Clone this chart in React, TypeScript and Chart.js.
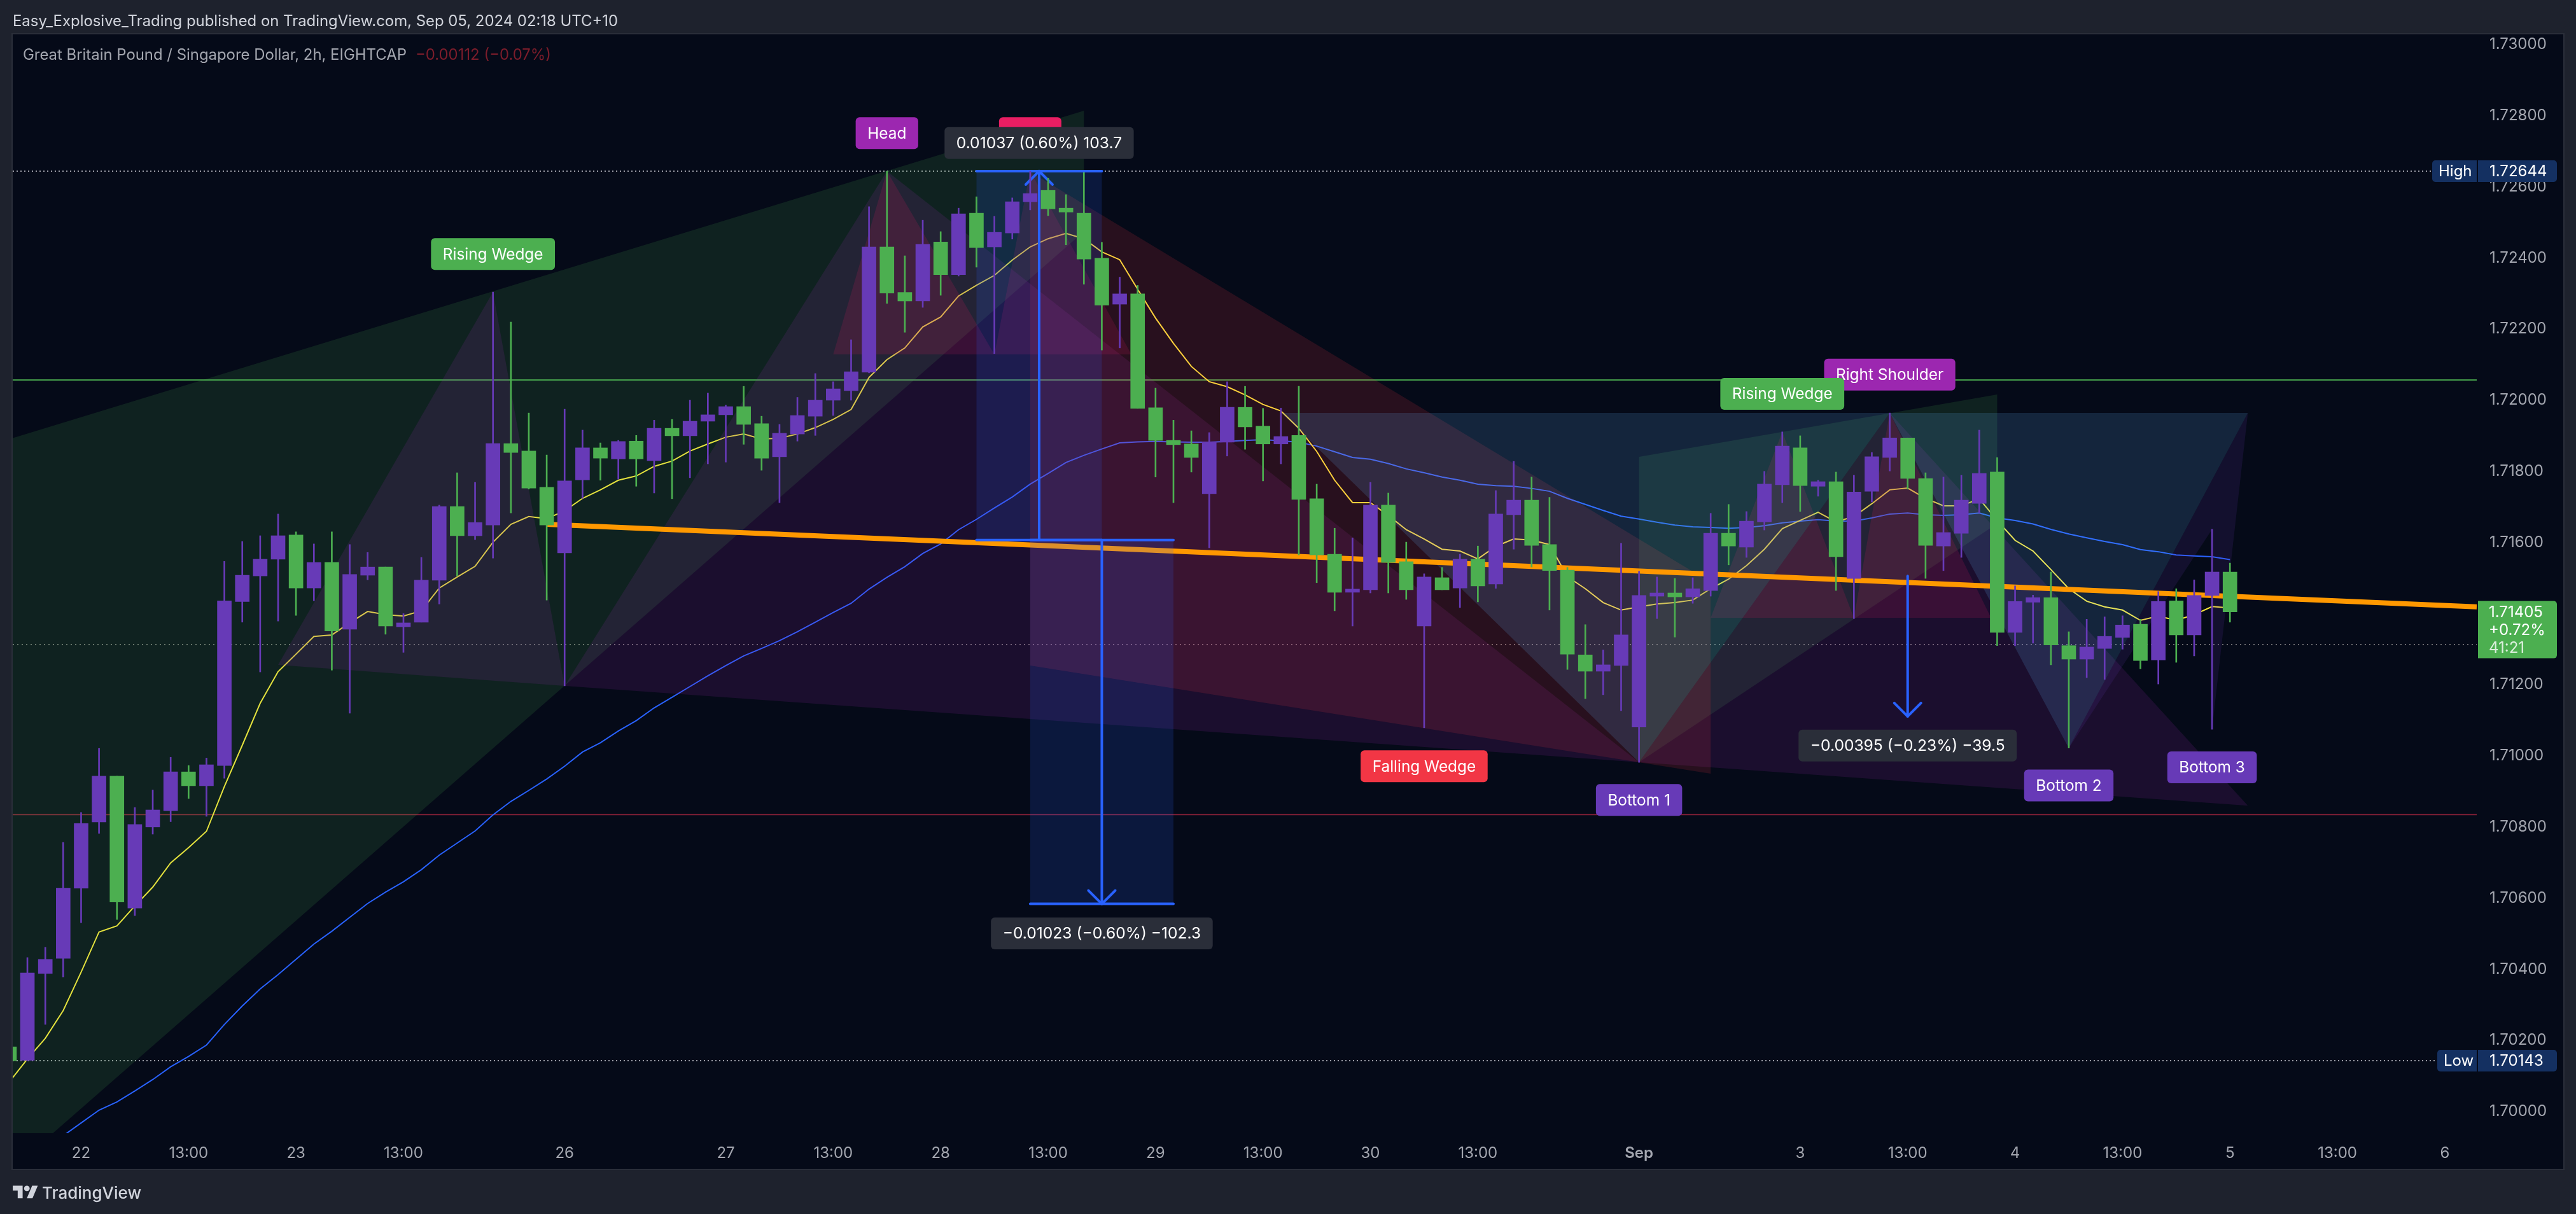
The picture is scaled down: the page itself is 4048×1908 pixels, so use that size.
import React, { useEffect, useRef } from "react";
import { Chart, registerables } from "chart.js";

Chart.register(...registerables);

const FONT = "Inter, 'Noto Sans', sans-serif";

const priceTicks = [1.73, 1.728, 1.726, 1.724, 1.722, 1.72, 1.718, 1.716, 1.714, 1.712, 1.71, 1.708, 1.706, 1.704, 1.702, 1.7];
const timeTickBars = [4, 10, 16, 22, 31, 40, 46, 52, 58, 64, 70, 76, 82, 91, 100, 106, 112, 118, 124, 130, 136];
const timeTickLabels = ["22", "13:00", "23", "13:00", "26", "27", "13:00", "28", "13:00", "29", "13:00", "30", "13:00", "Sep", "3", "13:00", "4", "13:00", "5", "13:00", "6"];

const opens = [
  1.70182, 1.70144, 1.70388, 1.70431, 1.70628, 1.70814, 1.70943, 1.70572, 1.708, 1.70846,
  1.70955, 1.70916, 1.70973, 1.71434, 1.71506, 1.71553, 1.71621, 1.71472, 1.71544, 1.71356,
  1.71508, 1.71531, 1.71363, 1.71376, 1.71494, 1.71701, 1.71619, 1.71649, 1.71878, 1.71857,
  1.71755, 1.71571, 1.71776, 1.71866, 1.71835, 1.71885, 1.7183, 1.71921, 1.719, 1.71941,
  1.71959, 1.71982, 1.71934, 1.71841, 1.71905, 1.71955, 1.72, 1.72027, 1.72079, 1.72431,
  1.72303, 1.72279, 1.72445, 1.72353, 1.72526, 1.72431, 1.7247, 1.72558, 1.7259, 1.7254,
  1.72526, 1.72399, 1.7227, 1.72299, 1.71979, 1.71887, 1.71877, 1.71737, 1.71882, 1.7198,
  1.71927, 1.71877, 1.71901, 1.71723, 1.71567, 1.7146, 1.71467, 1.71705, 1.71546, 1.71365,
  1.71501, 1.71472, 1.71553, 1.71483, 1.71678, 1.71719, 1.71594, 1.71522, 1.71284, 1.71238,
  1.71254, 1.71081, 1.71449, 1.71458, 1.71447, 1.71465, 1.71626, 1.71587, 1.71658, 1.71762,
  1.71866, 1.71758, 1.71771, 1.71499, 1.71744, 1.71839, 1.71894, 1.7178, 1.7159, 1.71626,
  1.7171, 1.71798, 1.71347, 1.71432, 1.71445, 1.7131, 1.71272, 1.71302, 1.71333, 1.7137,
  1.7127, 1.71436, 1.7134, 1.71451, 1.71517,
];
const highs = [
  1.7022, 1.70433, 1.70462, 1.70757, 1.70841, 1.71021, 1.70943, 1.70855, 1.70904, 1.70996,
  1.70973, 1.70994, 1.71547, 1.71603, 1.71619, 1.7168, 1.7163, 1.71596, 1.7163, 1.71594,
  1.71572, 1.71531, 1.714, 1.71558, 1.71705, 1.71796, 1.71769, 1.72304, 1.7222, 1.71964,
  1.71846, 1.71975, 1.71916, 1.7188, 1.71887, 1.71901, 1.71944, 1.71946, 1.72, 1.7202,
  1.71986, 1.72039, 1.71955, 1.71932, 1.72008, 1.72075, 1.72052, 1.7217, 1.72544, 1.72644,
  1.72406, 1.72506, 1.72474, 1.7254, 1.72572, 1.72517, 1.72569, 1.72644, 1.72624, 1.72578,
  1.7264, 1.72444, 1.72346, 1.72323, 1.72034, 1.71944, 1.71914, 1.71909, 1.72052, 1.72039,
  1.71977, 1.71978, 1.72039, 1.71764, 1.7164, 1.71613, 1.71769, 1.71739, 1.71601, 1.71512,
  1.7153, 1.71567, 1.7159, 1.71746, 1.71828, 1.71784, 1.71727, 1.7153, 1.71369, 1.71298,
  1.71598, 1.71519, 1.71503, 1.71499, 1.71501, 1.71682, 1.71707, 1.71687, 1.718, 1.71911,
  1.719, 1.71775, 1.71798, 1.71789, 1.71853, 1.71964, 1.71894, 1.71796, 1.71784, 1.71789,
  1.71916, 1.71839, 1.71478, 1.71452, 1.71517, 1.71349, 1.71384, 1.71391, 1.71394, 1.71384,
  1.71462, 1.7147, 1.71495, 1.71637, 1.71542,
];
const lows = [
  1.70143, 1.70143, 1.70245, 1.70378, 1.70531, 1.70782, 1.7054, 1.70551, 1.7078, 1.70815,
  1.7088, 1.7083, 1.70937, 1.71376, 1.71236, 1.71379, 1.71395, 1.71436, 1.71241, 1.7112,
  1.71495, 1.71342, 1.71291, 1.71376, 1.71427, 1.71506, 1.71608, 1.71556, 1.71683, 1.7175,
  1.71438, 1.71197, 1.71724, 1.71775, 1.71778, 1.71758, 1.71739, 1.71723, 1.71782, 1.71821,
  1.71826, 1.71876, 1.71803, 1.71712, 1.71885, 1.71901, 1.71957, 1.72, 1.72077, 1.72272,
  1.72191, 1.72261, 1.72295, 1.72349, 1.72374, 1.72131, 1.72453, 1.72535, 1.72519, 1.72437,
  1.72326, 1.72141, 1.72147, 1.71977, 1.71784, 1.71712, 1.71798, 1.71585, 1.71843, 1.71862,
  1.71773, 1.71821, 1.71565, 1.71487, 1.71408, 1.71365, 1.71458, 1.71458, 1.7144, 1.71079,
  1.71467, 1.71417, 1.71433, 1.71471, 1.71581, 1.71531, 1.7141, 1.71243, 1.71161, 1.71172,
  1.71127, 1.70982, 1.71386, 1.71334, 1.71429, 1.71449, 1.71537, 1.71558, 1.71635, 1.71712,
  1.71687, 1.7173, 1.71465, 1.71386, 1.71714, 1.71801, 1.7175, 1.71499, 1.71521, 1.71558,
  1.71683, 1.7131, 1.7131, 1.71317, 1.71256, 1.71022, 1.7122, 1.71215, 1.713, 1.71245,
  1.71202, 1.71263, 1.71281, 1.71075, 1.71376,
];
const closes = [
  1.70143, 1.7039, 1.70428, 1.70628, 1.7081, 1.70943, 1.70589, 1.70807, 1.70848, 1.70955,
  1.70916, 1.70975, 1.71436, 1.71508, 1.71553, 1.71619, 1.71472, 1.71544, 1.71351, 1.7151,
  1.71531, 1.71365, 1.71374, 1.71494, 1.71701, 1.71619, 1.71656, 1.71878, 1.71853, 1.71753,
  1.71649, 1.71773, 1.71866, 1.71837, 1.71884, 1.71835, 1.71921, 1.719, 1.71941, 1.71959,
  1.71982, 1.71932, 1.71837, 1.71907, 1.71957, 1.72, 1.72032, 1.7208, 1.72431, 1.72301,
  1.72279, 1.72438, 1.72353, 1.72524, 1.72429, 1.72472, 1.72558, 1.72581, 1.72538, 1.72529,
  1.72397, 1.72267, 1.72299, 1.71977, 1.71887, 1.71875, 1.71839, 1.71883, 1.7198, 1.71925,
  1.71877, 1.71898, 1.71721, 1.71565, 1.7146, 1.71469, 1.71705, 1.71544, 1.71467, 1.71503,
  1.71467, 1.71553, 1.71478, 1.7168, 1.71719, 1.71592, 1.71521, 1.71286, 1.71238, 1.71256,
  1.7134, 1.71451, 1.71458, 1.71447, 1.7147, 1.71626, 1.7159, 1.7166, 1.71764, 1.71871,
  1.7176, 1.71771, 1.7156, 1.71742, 1.71841, 1.71894, 1.7178, 1.71592, 1.71628, 1.71719,
  1.71794, 1.71347, 1.71434, 1.71445, 1.71312, 1.71272, 1.71306, 1.71336, 1.71368, 1.71268,
  1.71434, 1.7134, 1.71451, 1.71517, 1.71405,
];
const emaFast = [
  1.70084, 1.70148, 1.70206, 1.70284, 1.70392, 1.70505, 1.70522, 1.70578, 1.70631, 1.70699,
  1.70742, 1.70788, 1.70914, 1.7103, 1.71148, 1.71237, 1.71286, 1.71336, 1.7134, 1.71374,
  1.71406, 1.71397, 1.71393, 1.71408, 1.71472, 1.71503, 1.71533, 1.71601, 1.71651, 1.71673,
  1.71667, 1.71689, 1.71724, 1.71748, 1.71775, 1.71787, 1.71814, 1.71829, 1.71857, 1.71877,
  1.71896, 1.71905, 1.71891, 1.71893, 1.71905, 1.71923, 1.71946, 1.71974, 1.72064, 1.72114,
  1.72147, 1.72206, 1.72234, 1.72293, 1.72323, 1.72351, 1.72394, 1.72431, 1.72454, 1.72469,
  1.72454, 1.72417, 1.72395, 1.72312, 1.72231, 1.7216, 1.72095, 1.72052, 1.72038, 1.72015,
  1.71988, 1.7197, 1.71921, 1.71856, 1.71775, 1.71712, 1.71712, 1.71676, 1.71636, 1.7161,
  1.71581, 1.71576, 1.71554, 1.71589, 1.7161, 1.71607, 1.71594, 1.71504, 1.7147, 1.71431,
  1.7141, 1.71419, 1.71427, 1.71431, 1.71438, 1.7147, 1.71497, 1.71535, 1.71581, 1.71639,
  1.71662, 1.71685, 1.71658, 1.71673, 1.71709, 1.71748, 1.71753, 1.71724, 1.71703, 1.71703,
  1.71723, 1.71662, 1.71606, 1.71576, 1.71524, 1.7147, 1.71435, 1.71419, 1.7141, 1.71381,
  1.71393, 1.71381, 1.71397, 1.7142, 1.71416,
];
const emaSlow = [
  null, null, 1.69896, 1.69932, 1.69968, 1.70004, 1.70027, 1.70058, 1.7009, 1.70126,
  1.70155, 1.70187, 1.70245, 1.70297, 1.70345, 1.70385, 1.70428, 1.70471, 1.70507, 1.70546,
  1.70585, 1.70617, 1.70646, 1.7068, 1.70721, 1.70755, 1.70789, 1.70834, 1.70872, 1.70903,
  1.70935, 1.70971, 1.71011, 1.71037, 1.7107, 1.71099, 1.71135, 1.71165, 1.71195, 1.71225,
  1.71254, 1.71281, 1.71302, 1.71324, 1.71349, 1.71376, 1.71403, 1.71429, 1.71469, 1.71502,
  1.71532, 1.71569, 1.71596, 1.71636, 1.71665, 1.71697, 1.71728, 1.71764, 1.71794, 1.71825,
  1.71845, 1.71863, 1.7188, 1.71883, 1.71884, 1.71883, 1.71882, 1.71882, 1.71884, 1.71887,
  1.71889, 1.71886, 1.71882, 1.71871, 1.71855, 1.71839, 1.71834, 1.71822, 1.71807, 1.71796,
  1.71784, 1.71775, 1.71764, 1.7176, 1.71758, 1.71752, 1.71744, 1.71724, 1.71707, 1.7169,
  1.71674, 1.71666, 1.71657, 1.71649, 1.71644, 1.71642, 1.7164, 1.71642, 1.71647, 1.71655,
  1.7166, 1.71664, 1.7166, 1.7166, 1.71669, 1.7168, 1.71683, 1.71678, 1.71676, 1.71678,
  1.71683, 1.71669, 1.71662, 1.71652, 1.71637, 1.71624, 1.71613, 1.71603, 1.71594, 1.7158,
  1.71574, 1.71565, 1.71562, 1.7156, 1.71552,
];

const highPrice = 1.72644;
const lowPrice = 1.70143;
const prevClose = 1.71313;
const resistance = 1.72057;
const support = 1.70835;
const trendX = [30, 137.78];
const trendY = [1.71651, 1.71419];

const risingWedgeA = [[-7.64, 1.71773], [60, 1.72814], [60, 1.72474], [-7.64, 1.69496]];
const risingWedgeB = [[91, 1.71841], [111, 1.72016], [111, 1.71653], [91, 1.70982]];
const shoulderLeft = [[15, 1.71256], [27, 1.72304], [31, 1.71197]];
const shoulderHead = [[31, 1.71197], [49, 1.72644], [91, 1.70982]];
const shoulderRight = [[91, 1.70982], [105, 1.71964], [125, 1.7086]];
const fallingWedge = [[57, 1.72642], [95, 1.71488], [95, 1.7095], [57, 1.71254]];
const doubleTopA = [[46, 1.72129], [49, 1.72644], [55, 1.72129], [57, 1.72644], [62.65, 1.72129]];
const doubleTopB = [[95, 1.71388], [99, 1.71911], [103, 1.71388], [105, 1.71964], [110.66, 1.71388]];
const bottomsLeft = [[71.04, 1.71964], [91, 1.70982], [105, 1.71964]];
const bottomsRight = [[105, 1.71964], [115, 1.71022], [125, 1.71964]];
const bottomsTail = [[125, 1.71964], [123, 1.71075], [123, 1.71637], [115, 1.71022]];

const measureUp = { left: 54, right: 61, at: 57.5, from: 1.71607, to: 1.72644 };
const measureDown = { left: 57, right: 65, at: 61, from: 1.71607, to: 1.70584 };
const arrowDown = { at: 106, from: 1.71506, to: 1.71111 };

const notes = [
  { text: "Rising Wedge", at: 27, price: 1.72411, color: "#4caf50" },
  { text: "Head", at: 49, price: 1.72751, color: "#9c27b0" },
  { text: "", at: 57, price: 1.72751, color: "#e91e63" },
  { text: "0.01037 (0.60%) 103.7", at: 57.5, price: 1.72723, color: "#2a2e39" },
  { text: "\u22120.01023 (\u22120.60%) \u2212102.3", at: 61, price: 1.70501, color: "#2a2e39" },
  { text: "\u22120.00395 (\u22120.23%) \u221239.5", at: 106, price: 1.71029, color: "#2a2e39" },
  { text: "Falling Wedge", at: 79, price: 1.70971, color: "#f23645" },
  { text: "Bottom 1", at: 91, price: 1.70876, color: "#673ab7" },
  { text: "Right Shoulder", at: 105, price: 1.72072, color: "#9c27b0" },
  { text: "Rising Wedge", at: 99, price: 1.72018, color: "#4caf50" },
  { text: "Bottom 2", at: 115, price: 1.70917, color: "#673ab7" },
  { text: "Bottom 3", at: 123, price: 1.70968, color: "#673ab7" },
];

const PURPLE = "#673ab7";
const GREEN = "#4caf50";
const X_MIN = 0.181;
const X_MAX = 137.78;
const Y_MIN = 1.699392;
const Y_MAX = 1.730286;

function poly(chart: any, pts: number[][], fill: string) {
  const { ctx, scales } = chart;
  ctx.beginPath();
  pts.forEach(([x, y], i) => {
    const px = scales.x.getPixelForValue(x);
    const py = scales.y.getPixelForValue(y);
    if (i === 0) ctx.moveTo(px, py);
    else ctx.lineTo(px, py);
  });
  ctx.closePath();
  ctx.fillStyle = fill;
  ctx.fill();
}

function clipPlot(chart: any, draw: () => void) {
  const { ctx, chartArea: a } = chart;
  ctx.save();
  ctx.beginPath();
  ctx.rect(a.left, a.top, a.right - a.left, a.bottom - a.top);
  ctx.clip();
  draw();
  ctx.restore();
}

function roundBox(ctx: any, x: number, y: number, w: number, h: number, r: any, fill: string) {
  ctx.beginPath();
  ctx.roundRect(x, y, w, h, r);
  ctx.fillStyle = fill;
  ctx.fill();
}

function segment(ctx: any, x1: number, y1: number, x2: number, y2: number) {
  ctx.beginPath();
  ctx.moveTo(x1, y1);
  ctx.lineTo(x2, y2);
  ctx.stroke();
}

function drawShapes(chart: any) {
  clipPlot(chart, () => {
    const green = "rgba(76,175,80,0.15)";
    const magenta = "rgba(156,39,176,0.15)";
    const red = "rgba(242,54,69,0.15)";
    const pink = "rgba(233,30,99,0.15)";
    const sky = "rgba(100,181,246,0.16)";
    poly(chart, risingWedgeA, green);
    poly(chart, risingWedgeB, green);
    poly(chart, shoulderLeft, magenta);
    poly(chart, shoulderHead, magenta);
    poly(chart, shoulderRight, magenta);
    poly(chart, fallingWedge, red);
    poly(chart, doubleTopA, pink);
    poly(chart, doubleTopB, pink);
    poly(chart, bottomsLeft, sky);
    poly(chart, bottomsRight, sky);
    poly(chart, bottomsTail, "rgba(103,58,183,0.14)");
  });
}

function drawMeasures(chart: any) {
  const { ctx, scales } = chart;
  const X = (v: number) => scales.x.getPixelForValue(v);
  const Y = (v: number) => scales.y.getPixelForValue(v);
  clipPlot(chart, () => {
    const blue = "#2962ff";
    const boxFill = "rgba(41,98,255,0.16)";
    for (const m of [measureUp, measureDown]) {
      const top = Math.min(Y(m.from), Y(m.to));
      const bottom = Math.max(Y(m.from), Y(m.to));
      ctx.fillStyle = boxFill;
      ctx.fillRect(X(m.left), top, X(m.right) - X(m.left), bottom - top);
    }
    ctx.strokeStyle = blue;
    ctx.lineWidth = 4;
    ctx.lineCap = "round";
    for (const m of [measureUp, measureDown]) {
      segment(ctx, X(m.left), Y(m.from), X(m.right), Y(m.from));
      segment(ctx, X(m.left), Y(m.to), X(m.right), Y(m.to));
    }
    for (const m of [measureUp, measureDown, arrowDown]) {
      const x = X(m.at);
      const y1 = Y(m.from);
      const y2 = Y(m.to);
      const dir = y2 < y1 ? 1 : -1;
      segment(ctx, x, y1, x, y2);
      segment(ctx, x, y2, x - 21, y2 + dir * 21);
      segment(ctx, x, y2, x + 21, y2 + dir * 21);
    }
  });
}

function drawNotes(chart: any) {
  const { ctx, scales } = chart;
  ctx.save();
  ctx.textBaseline = "middle";
  ctx.textAlign = "center";
  for (const n of notes) {
    const x = scales.x.getPixelForValue(n.at);
    const y = scales.y.getPixelForValue(n.price);
    const isMeasure = n.color === "#2a2e39";
    ctx.font = `${isMeasure ? 24.6 : 24.4}px ${FONT}`;
    const w = n.text ? ctx.measureText(n.text).width + 37 : 98;
    roundBox(ctx, x - w / 2, y - 25, w, 50, 6, n.color);
    ctx.fillStyle = "#ffffff";
    ctx.fillText(n.text, x, y + 1);
  }
  ctx.restore();
}

function drawTags(chart: any) {
  const { ctx, scales } = chart;
  const right = chart.chartArea.right;
  ctx.save();
  ctx.font = `24px ${FONT}`;
  ctx.textBaseline = "middle";
  const tag = (label: string, leftEdge: number, price: number) => {
    const y = scales.y.getPixelForValue(price);
    const fill = "#143061";
    ctx.beginPath();
    ctx.roundRect(leftEdge, y - 17, right - leftEdge, 34, [5, 0, 0, 5]);
    ctx.fillStyle = fill;
    ctx.fill();
    ctx.beginPath();
    ctx.roundRect(right + 2, y - 17, 124, 34, [0, 5, 5, 0]);
    ctx.fill();
    ctx.fillStyle = "#ffffff";
    ctx.textAlign = "left";
    ctx.fillText(label, leftEdge + 10, y + 1);
    ctx.fillText(price.toFixed(5), right + 20, y + 1);
  };
  tag("High", right - 70, highPrice);
  tag("Low", right - 62, lowPrice);

  const last = closes[closes.length - 1];
  const y = scales.y.getPixelForValue(last);
  roundBox(ctx, right + 2, y - 17, 124, 90, [0, 5, 5, 0], GREEN);
  ctx.textAlign = "left";
  ctx.fillStyle = "#ffffff";
  ctx.fillText(last.toFixed(5), right + 19, y + 1);
  ctx.fillText("+0.72%", right + 19, y + 29);
  ctx.fillStyle = "rgba(255,255,255,0.8)";
  ctx.fillText("41:21", right + 19, y + 57);
  ctx.restore();
}

const drawingsPlugin = {
  id: "drawings",
  afterDatasetDraw(chart: any, args: any) {
    const label = chart.data.datasets[args.index].label;
    if (label === "EMA fast") drawShapes(chart);
    if (label === "Trend") drawMeasures(chart);
  },
  afterDatasetsDraw(chart: any) {
    drawNotes(chart);
    drawTags(chart);
  },
};

function level(label: string, price: number, color: string, dash: number[], order: number) {
  return {
    type: "line",
    label,
    data: [{ x: X_MIN, y: price }, { x: X_MAX, y: price }],
    borderColor: color,
    borderWidth: 2,
    borderDash: dash,
    pointRadius: 0,
    order,
  };
}

export default function App() {
  const ref = useRef<HTMLCanvasElement | null>(null);

  useEffect(() => {
    if (!ref.current) return;
    const barColors = closes.map((c, i) => (c >= opens[i] ? PURPLE : GREEN));
    const chart = new Chart(ref.current, {
      type: "bar",
      plugins: [drawingsPlugin],
      data: {
        datasets: [
          level("Prior close", prevClose, "#6b6b6f", [2, 5], 70),
          level("High", highPrice, "#9a9ca6", [2, 4], 69),
          level("Low", lowPrice, "#9a9ca6", [2, 4], 68),
          level("Resistance", resistance, GREEN, [], 67),
          level("Support", support, "#801f35", [], 66),
          {
            type: "line",
            label: "EMA slow",
            data: emaSlow.map((y, x) => ({ x, y })),
            borderColor: "#2962ff",
            borderWidth: 2,
            pointRadius: 0,
            tension: 0,
            order: 51,
          },
          {
            type: "line",
            label: "EMA fast",
            data: emaFast.map((y, x) => ({ x, y })),
            borderColor: "#ffeb3b",
            borderWidth: 2,
            pointRadius: 0,
            tension: 0,
            order: 50,
          },
          {
            type: "line",
            label: "Trend",
            data: trendX.map((x, i) => ({ x, y: trendY[i] })),
            borderColor: "#ff9800",
            borderWidth: 8,
            pointRadius: 0,
            order: 40,
          },
          {
            type: "bar",
            label: "Wicks",
            data: highs.map((h, x) => ({ x, y: [lows[x], h] })),
            backgroundColor: barColors,
            barThickness: 2,
            grouped: false,
            order: 30,
          },
          {
            type: "bar",
            label: "Bodies",
            data: opens.map((o, x) => ({ x, y: [o, closes[x]] })),
            backgroundColor: barColors,
            barThickness: 22,
            grouped: false,
            order: 20,
          },
        ],
      } as any,
      options: {
        responsive: false,
        devicePixelRatio: 1,
        animation: false,
        layout: { padding: { left: 20, top: 54, right: 20, bottom: 71 } },
        plugins: { legend: { display: false }, tooltip: { enabled: false }, title: { display: false } },
        scales: {
          x: {
            type: "linear",
            offset: false,
            min: X_MIN,
            max: X_MAX,
            grid: { display: false, drawTicks: false, offset: false },
            border: { display: false },
            afterBuildTicks: (s: any) => {
              s.ticks = timeTickBars.map((value) => ({ value }));
            },
            afterFit: (s: any) => {
              s.height = 56;
            },
            ticks: {
              autoSkip: false,
              maxRotation: 0,
              minRotation: 0,
              padding: 17,
              color: "#a3a6af",
              font: (c: any) =>
                timeTickLabels[timeTickBars.indexOf(c.tick?.value)] === "Sep"
                  ? { family: FONT, size: 24, weight: "600" }
                  : { family: FONT, size: 24 },
              callback: (v: any) => timeTickLabels[timeTickBars.indexOf(v)],
            },
          },
          y: {
            type: "linear",
            position: "right",
            min: Y_MIN,
            max: Y_MAX,
            grid: { display: false, drawTicks: false },
            border: { display: false },
            afterBuildTicks: (s: any) => {
              s.ticks = priceTicks.map((value) => ({ value }));
            },
            afterFit: (s: any) => {
              s.width = 136;
            },
            ticks: {
              autoSkip: false,
              padding: 20,
              color: "#a3a6af",
              font: { family: FONT, size: 24 },
              callback: (v: any) => Number(v).toFixed(5),
            },
          },
        },
      } as any,
    });
    return () => chart.destroy();
  }, []);

  const text = (style: React.CSSProperties): React.CSSProperties => ({
    position: "absolute",
    fontFamily: FONT,
    whiteSpace: "nowrap",
    lineHeight: "30px",
    ...style,
  });

  return (
    <div style={{ position: "absolute", left: 0, top: 0, width: 4048, height: 1908, background: "#1e222d", overflow: "hidden" }}>
      <div style={{ position: "absolute", left: 20, top: 54, width: 4008, height: 1783, background: "#050a18", boxShadow: "0 0 0 2px #2a2e39" }} />
      <canvas ref={ref} width={4048} height={1908} style={{ position: "absolute", left: 0, top: 0, width: 4048, height: 1908 }} />
      <div style={text({ left: 20, top: 18, fontSize: 23.9, color: "#d1d4dc" })}>
        Easy_Explosive_Trading published on TradingView.com, Sep 05, 2024 02:18 UTC+10
      </div>
      <div style={text({ left: 36, top: 71, fontSize: 23.9, color: "#a3a6af" })}>
        Great Britain Pound / Singapore Dollar, 2h, EIGHTCAP
      </div>
      <div style={text({ left: 653, top: 71, fontSize: 23.9, color: "#7c1d2b" })}>{"\u22120.00112 (\u22120.07%)"}</div>
      <svg style={{ position: "absolute", left: 20, top: 1859 }} width="40" height="31" viewBox="0 0 36 28">
        <path fill="#d1d4dc" d="M14 22H7V11H0V4h14v18zM28 22h-8l7.5-18h8L28 22z" />
        <circle fill="#d1d4dc" cx="20" cy="8" r="4" />
      </svg>
      <div style={text({ left: 66, top: 1860, fontSize: 26, fontWeight: 500, color: "#d1d4dc" })}>TradingView</div>
    </div>
  );
}
